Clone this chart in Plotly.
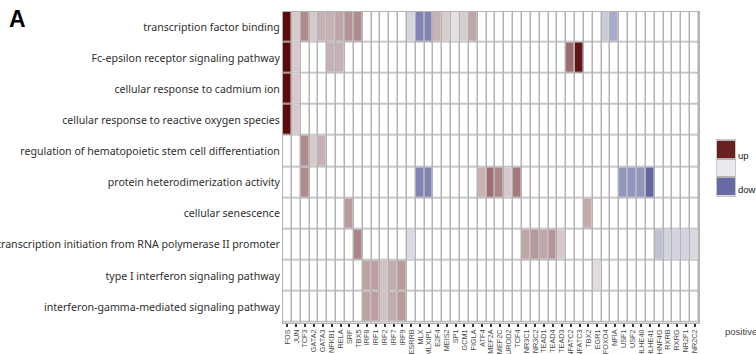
import numpy as np
import plotly.graph_objects as go

# GO terms (rows, top to bottom)
terms = [
    "transcription factor binding",
    "Fc-epsilon receptor signaling pathway",
    "cellular response to cadmium ion",
    "cellular response to reactive oxygen species",
    "regulation of hematopoietic stem cell differentiation",
    "protein heterodimerization activity",
    "cellular senescence",
    "transcription initiation from RNA polymerase II promoter",
    "type I interferon signaling pathway",
    "interferon-gamma-mediated signaling pathway",
]

# transcription factors (columns, left to right)
genes = [
    "FOS", "JUN", "TCF3", "GATA2", "GATA3", "NFKB1", "RELA", "SRF", "TBX5",
    "IRF8", "IRF1", "IRF2", "IRF7", "IRF9", "ESRRB", "MLX", "MLXIPL", "E2F4",
    "MEIS2", "SP1", "GCM1", "FIGLA", "ATF4", "MEF2A", "MEF2C", "NEUROD2",
    "TCF4", "NR3C1", "NR3C2", "TEAD1", "TEAD4", "TEAD3", "NFATC2", "NFATC3",
    "TBX2", "EGR1", "FOXO4", "NFIA", "USF1", "USF2", "BHLHE40", "BHLHE41",
    "HNF4G", "RXRB", "RXRG", "NR2F1", "NR2C2",
]

# regulation score per gene for each term (positive = up, negative = down)
tf_binding = {"FOS": 1.0, "JUN": 0.15, "TCF3": 0.42, "GATA2": 0.15, "GATA3": 0.25,
              "NFKB1": 0.25, "RELA": 0.3, "SRF": 0.38, "TBX5": 0.42, "ESRRB": -0.15,
              "MLX": -0.72, "MLXIPL": -0.72, "E2F4": 0.25, "MEIS2": 0.13, "SP1": 0.04,
              "GCM1": 0.13, "FIGLA": 0.3, "FOXO4": -0.22, "NFIA": -0.45}
fc_epsilon = {"FOS": 1.0, "JUN": 0.15, "NFKB1": 0.25, "RELA": 0.25,
              "NFATC2": 0.55, "NFATC3": 0.95}
cadmium = {"FOS": 1.0, "JUN": 0.15}
ros = {"FOS": 1.0, "JUN": 0.15}
hsc_diff = {"TCF3": 0.42, "GATA2": 0.15, "GATA3": 0.25}
heterodimer = {"TCF3": 0.42, "MLX": -0.72, "MLXIPL": -0.72, "ATF4": 0.25,
               "MEF2A": 0.55, "MEF2C": 0.45, "NEUROD2": 0.15, "TCF4": 0.5,
               "USF1": -0.6, "USF2": -0.6, "BHLHE40": -0.6, "BHLHE41": -0.92}
senescence = {"SRF": 0.35, "TBX2": 0.28}
pol2_init = {"TBX5": 0.45, "ESRRB": -0.12, "NR3C1": 0.3, "NR3C2": 0.36,
             "TEAD1": 0.3, "TEAD4": 0.38, "TEAD3": 0.15, "HNF4G": -0.3,
             "RXRB": -0.16, "RXRG": -0.16, "NR2F1": -0.16, "NR2C2": -0.12}
ifn_type1 = {"IRF8": 0.32, "IRF1": 0.33, "IRF2": 0.18, "IRF7": 0.28, "IRF9": 0.35,
             "EGR1": 0.06}
ifn_gamma = {"IRF8": 0.32, "IRF1": 0.33, "IRF2": 0.18, "IRF7": 0.28, "IRF9": 0.35}

term_scores = [tf_binding, fc_epsilon, cadmium, ros, hsc_diff, heterodimer,
               senescence, pol2_init, ifn_type1, ifn_gamma]

# key entries (value shown in each legend box)
key_values = [0.9, 0.0, -0.9]

z = np.full((len(terms), len(genes)), np.nan)
for i, scores in enumerate(term_scores):
    for g, v in scores.items():
        z[i, genes.index(g)] = v

colorscale = [[0.0, "#575d9d"], [0.5, "#ebe9ed"], [1.0, "#5c0a0a"]]
grid_col = "#b3b3b3"

fig = go.Figure()
# white base so that empty cells show as blank boxes
fig.add_trace(go.Heatmap(
    z=np.zeros_like(z), x=genes, y=terms, colorscale=[[0, "white"], [1, "white"]],
    showscale=False, xgap=1.5, ygap=1.5, hoverinfo="skip"))
fig.add_trace(go.Heatmap(
    z=z, x=genes, y=terms, colorscale=colorscale, zmin=-1, zmax=1,
    showscale=False, xgap=1.5, ygap=1.5))

# up / down key
fig.add_trace(go.Heatmap(
    z=[[v] for v in key_values], x=[0], y=[0, 1, 2], colorscale=colorscale,
    zmin=-1, zmax=1, showscale=False, ygap=2, xaxis="x2", yaxis="y2",
    hoverinfo="skip"))

W, H = 756, 354
fig.update_layout(
    width=W, height=H, template="none",
    margin=dict(l=0, r=0, t=0, b=0),
    paper_bgcolor="white", plot_bgcolor=grid_col,
    xaxis=dict(domain=[283 / W, 699 / W], tickangle=-90, automargin=False,
               tickmode="array", tickvals=genes, ticktext=genes,
               tickfont=dict(family="Liberation Sans", size=7.3, color="#4a4a4a"),
               ticks="outside", ticklen=3, tickwidth=2, tickcolor="#333333",
               showgrid=False, zeroline=False, showline=True, mirror=True,
               linecolor=grid_col, linewidth=1),
    yaxis=dict(domain=[1 - 322.5 / H, 1 - 11.5 / H], autorange="reversed",
               automargin=False, tickmode="array", tickvals=terms, ticktext=terms,
               tickfont=dict(family="Noto Sans", size=10.6, color="#2e2e2e"),
               ticks="", showgrid=False, zeroline=False, showline=True,
               mirror=True, linecolor=grid_col, linewidth=1),
    xaxis2=dict(domain=[716.5 / W, 735 / W], anchor="y2", showticklabels=False,
                ticks="", showgrid=False, zeroline=False, showline=True,
                mirror=True, linecolor="#c8c8c8", linewidth=1),
    yaxis2=dict(domain=[1 - 195.5 / H, 1 - 140 / H], anchor="x2",
                autorange="reversed", showticklabels=False, ticks="",
                showgrid=False, zeroline=False, showline=True, mirror=True,
                linecolor="#c8c8c8", linewidth=1),
    showlegend=False,
)

fig.add_annotation(text="up", xref="paper", yref="paper", x=736 / W, y=1 - 155 / H,
                   xanchor="left", yanchor="middle", showarrow=False,
                   font=dict(family="Liberation Sans", size=9.5, color="#222222"))
fig.add_annotation(text="down", xref="paper", yref="paper", x=736 / W, y=1 - 189 / H,
                   xanchor="left", yanchor="middle", showarrow=False,
                   font=dict(family="Liberation Sans", size=9.5, color="#222222"))
fig.add_annotation(text="positive", xref="paper", yref="paper", x=723 / W, y=1 - 331 / H,
                   xanchor="left", yanchor="middle", showarrow=False,
                   font=dict(family="Liberation Sans", size=9.5, color="#444444"))
fig.add_annotation(text="<b>A</b>", xref="paper", yref="paper", x=7 / W, y=1 - 18.5 / H,
                   xanchor="left", yanchor="middle", showarrow=False,
                   font=dict(family="Liberation Sans", size=23, color="black"))

fig.write_html("out.html")
